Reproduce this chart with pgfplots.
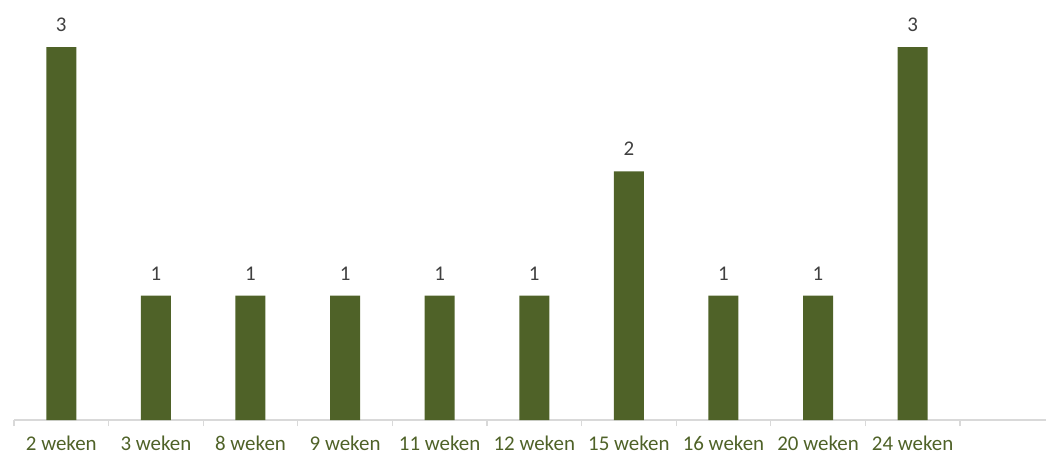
\documentclass[border=0pt]{standalone}
\usepackage{pgfplots}
\pgfplotsset{compat=1.18}
\usepackage{fontspec}
\setmainfont{Carlito}
\definecolor{bargreen}{HTML}{4F6228}
\definecolor{labgray}{HTML}{404040}
\definecolor{axgray}{HTML}{D9D9D9}
\begin{document}
\begin{tikzpicture}
\begin{axis}[
  scale only axis,
  width=1032bp, height=420bp,
  xmin=-0.5, xmax=10.41,
  ymin=0, ymax=3.38,
  ybar, bar width=30bp,
  hide y axis,
  axis x line*=bottom,
  x axis line style={draw=axgray, line width=1.2bp, -},
  xtick={0,...,9},
  xticklabels={2 weken,3 weken,8 weken,9 weken,11 weken,12 weken,15 weken,16 weken,20 weken,24 weken},
  minor xtick={-0.5,0.5,...,9.5},
  major tick length=0pt,
  minor tick length=6bp,
  xtick align=outside,
  minor x tick style={draw=axgray, line width=1.2bp},
  xticklabel style={font=\fontsize{21}{24}\selectfont, text=bargreen, yshift=-12bp},
  nodes near coords,
  nodes near coords style={font=\fontsize{21}{24}\selectfont, text=labgray, yshift=12bp},
  /pgf/number format/assume math mode=true,
  clip=false,
]
\addplot[fill=bargreen, draw=none] coordinates {(0,3) (1,1) (2,1) (3,1) (4,1) (5,1) (6,2) (7,1) (8,1) (9,3)};
\coordinate (ll) at (rel axis cs:0,0);
\coordinate (ur) at (rel axis cs:1,1);
\end{axis}
\pgfresetboundingbox
\path ([xshift=-14bp,yshift=-38bp]ll) rectangle (ur);
\end{tikzpicture}
\end{document}
